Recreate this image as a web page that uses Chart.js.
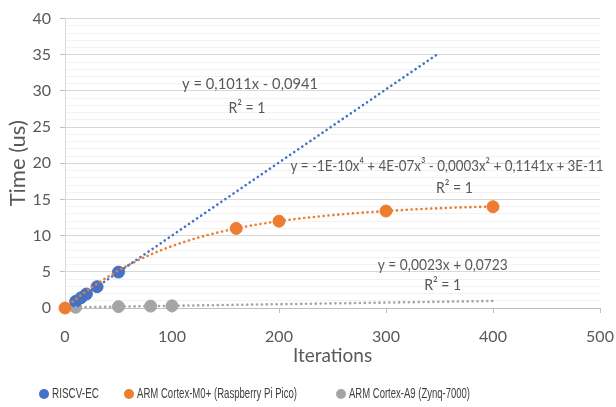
<!DOCTYPE html>
<html>
<head>
<meta charset="utf-8">
<script src="https://cdn.jsdelivr.net/npm/chart.js@4.4.1/dist/chart.umd.min.js"></script>
<style>
  html, body { margin: 0; padding: 0; background: #fff; }
</style>
</head>
<body>
<canvas id="chart" width="616" height="407"></canvas>
<script>
// series
const seriesNames = ["RISCV-EC", "ARM Cortex-M0+ (Raspberry Pi Pico)", "ARM Cortex-A9 (Zynq-7000)"];
const seriesColors = ["#4472C4", "#ED7D31", "#A5A5A5"];

const riscvIter = [10, 15, 20, 30, 50];
const riscvTime = [0.92, 1.42, 1.93, 2.94, 4.96];

const m0Iter = [0, 160, 200, 300, 400];
const m0Time = [0, 11.0, 12.0, 13.4, 14.0];

const a9Iter = [10, 50, 80, 100];
const a9Time = [0.10, 0.19, 0.26, 0.30];

// trendline equation labels as shown
const trendLabels = [
  ["y = 0,1011x - 0,0941", "R² = 1"],
  ["y = -1E-10x⁴ + 4E-07x³ - 0,0003x² + 0,1141x + 3E-11", "R² = 1"],
  ["y = 0,0023x + 0,0723", "R² = 1"],
];

const xTicksMax = 500;
const yTicksMax = 40;

// least squares polynomial, x scaled by 100 to keep it stable
const polyfit = (xs, ys, deg) => {
  const s = 100;
  const n = deg + 1;
  const A = Array.from({ length: n }, () => new Array(n + 1).fill(0));
  xs.forEach((x, k) => {
    const u = x / s;
    for (let i = 0; i < n; i++) {
      for (let j = 0; j < n; j++) A[i][j] += Math.pow(u, i + j);
      A[i][n] += Math.pow(u, i) * ys[k];
    }
  });
  for (let i = 0; i < n; i++) {
    let p = i;
    for (let r = i + 1; r < n; r++) if (Math.abs(A[r][i]) > Math.abs(A[p][i])) p = r;
    [A[i], A[p]] = [A[p], A[i]];
    for (let r = 0; r < n; r++) {
      if (r === i) continue;
      const f = A[r][i] / A[i][i];
      for (let c = i; c <= n; c++) A[r][c] -= f * A[i][c];
    }
  }
  const coef = A.map((row, i) => row[n] / row[i]);
  return (x) => coef.reduce((acc, c, i) => acc + c * Math.pow(x / s, i), 0);
};

const trendPoints = (fn, from, to) => {
  const pts = [];
  for (let x = from; x <= to; x += 2) pts.push({ x, y: fn(x) });
  return pts;
};

const toPoints = (xs, ys) => xs.map((x, i) => ({ x, y: ys[i] }));

const markerSet = (i, xs, ys) => ({
  type: "scatter",
  label: seriesNames[i],
  data: toPoints(xs, ys),
  backgroundColor: seriesColors[i],
  borderColor: seriesColors[i],
  pointRadius: 6,
  pointBorderWidth: 1,
  clip: false,
  order: 2,
});

const trendSet = (i, pts) => ({
  type: "line",
  label: "trend " + i,
  data: pts,
  borderColor: seriesColors[i],
  borderWidth: 2.6,
  borderDash: [0.1, 4.8],
  borderCapStyle: "round",
  pointRadius: 0,
  fill: false,
  tension: 0,
  order: 1,
});

const riscvFit = polyfit(riscvIter, riscvTime, 1);
const m0Fit = polyfit(m0Iter, m0Time, 4);
const a9Fit = polyfit(a9Iter, a9Time, 1);

// forward forecast of 300 on the linear ones, like the original
const datasets = [
  markerSet(0, riscvIter, riscvTime),
  markerSet(1, m0Iter, m0Time),
  markerSet(2, a9Iter, a9Time),
  trendSet(0, trendPoints(riscvFit, 10, 350)),
  trendSet(1, trendPoints(m0Fit, 0, 400)),
  trendSet(2, trendPoints(a9Fit, 10, 400)),
];

const labelSpots = [
  { x: 173, y: 31.0, r2x: 170, r2y: 27.7, w: 136 },
  { x: 357, y: 19.6, r2x: 364, r2y: 16.6, w: 313 },
  { x: 353, y: 5.9, r2x: 353, r2y: 3.2, w: 130 },
];

const trendText = {
  id: "trendText",
  afterDatasetsDraw(chart) {
    const { ctx, scales: { x, y } } = chart;
    ctx.save();
    ctx.fillStyle = "#595959";
    ctx.font = "16px Lato";
    ctx.textAlign = "center";
    ctx.textBaseline = "middle";
    labelSpots.forEach((s, i) => {
      ctx.fillText(trendLabels[i][0], x.getPixelForValue(s.x), y.getPixelForValue(s.y), s.w);
      ctx.fillText(trendLabels[i][1], x.getPixelForValue(s.r2x), y.getPixelForValue(s.r2y), 37);
    });
    ctx.restore();
  },
};

const bottomLegend = {
  id: "bottomLegend",
  afterDraw(chart) {
    const { ctx } = chart;
    const dotX = [44, 129, 341];
    const textW = [47, 160, 121];
    const ly = 394;
    ctx.save();
    ctx.font = "15px 'Liberation Sans Narrow', 'Liberation Sans'";
    ctx.textBaseline = "middle";
    ctx.textAlign = "left";
    seriesNames.forEach((name, i) => {
      ctx.fillStyle = seriesColors[i];
      ctx.beginPath();
      ctx.arc(dotX[i], ly, 5, 0, Math.PI * 2);
      ctx.fill();
      ctx.fillStyle = "#404040";
      ctx.fillText(name, dotX[i] + 8, ly, textW[i]);
    });
    ctx.restore();
  },
};

new Chart(document.getElementById("chart"), {
  data: { datasets },
  options: {
    responsive: false,
    animation: false,
    devicePixelRatio: 1,
    layout: { padding: { top: 15, right: 0, left: 0, bottom: 0 } },
    plugins: {
      legend: { display: false },
      tooltip: { enabled: false },
    },
    scales: {
      x: {
        type: "linear",
        min: 0,
        max: xTicksMax,
        afterFit: (s) => {
          s.height = 99;
          s.paddingRight = 16;
        },
        ticks: {
          stepSize: 100,
          padding: 14,
          color: "#595959",
          font: { family: "Lato", size: 16 },
        },
        grid: { drawOnChartArea: false, tickLength: 5, tickColor: "#BFBFBF" },
        border: { color: "#BFBFBF" },
        title: {
          display: true,
          text: "Iterations",
          color: "#595959",
          font: { family: "Lato", size: 19 },
          padding: { top: 0, bottom: 40 },
        },
      },
      y: {
        type: "linear",
        min: 0,
        max: yTicksMax,
        afterFit: (s) => { s.width = 65; },
        ticks: {
          stepSize: 1,
          autoSkip: false,
          padding: 9,
          color: "#595959",
          font: { family: "Lato", size: 16 },
          callback: (v) => (v % 5 === 0 ? v : ""),
        },
        grid: {
          tickLength: 5,
          color: (c) => (c.tick && c.tick.value % 5 === 0 ? "#D9D9D9" : "#F2F2F2"),
          tickColor: (c) => (c.tick && c.tick.value % 5 === 0 ? "#BFBFBF" : "rgba(0,0,0,0)"),
        },
        border: { color: "#D9D9D9" },
        title: {
          display: true,
          text: "Time (us)",
          color: "#595959",
          font: { family: "Lato", size: 22 },
          padding: { top: 5, bottom: 0 },
        },
      },
    },
  },
  plugins: [trendText, bottomLegend],
});
</script>
</body>
</html>
